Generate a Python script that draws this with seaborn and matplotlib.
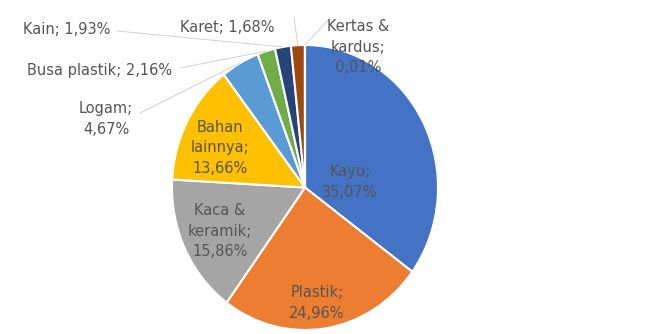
import numpy as np
import matplotlib
matplotlib.use("Agg")
import matplotlib.pyplot as plt
import seaborn as sns

categories = ["Kayu", "Plastik", "Kaca &\nkeramik", "Bahan\nlainnya", "Logam",
              "Busa plastik", "Kain", "Karet", "Kertas &\nkardus"]
shares = [35.07, 24.96, 15.86, 13.66, 4.67, 2.16, 1.93, 1.68, 0.01]
palette = ["#4472C4", "#ED7D31", "#A5A5A5", "#FFC000", "#5B9BD5",
           "#70AD47", "#264478", "#9E480E", "#636363"]

sns.set_theme(style="white")
plt.rcParams["font.family"] = ["DejaVu Sans"]

W, H = 647, 334
fig = plt.figure(figsize=(W / 100, H / 100), dpi=100)
fig.patch.set_facecolor("white")

# pie area in pixels (left, top, right, bottom)
px0, py0, px1, py1 = 172, 45, 438, 330
ax = fig.add_axes([px0 / W, 1 - py1 / H, (px1 - px0) / W, (py1 - py0) / H])

colors = sns.color_palette(palette)
wedges, _ = ax.pie(shares, colors=colors, startangle=90, counterclock=False,
                   wedgeprops=dict(edgecolor="white", linewidth=1.5))
ax.set_aspect("auto")
ax.set_xlim(-1, 1)
ax.set_ylim(-1, 1)
ax.axis("off")


def pct(v):
    return f"{v:.2f}".replace(".", ",") + "%"


def label_text(i):
    name = categories[i]
    if "\n" in name or i in (0, 1, 4):
        return f"{name};\n{pct(shares[i])}"
    return f"{name}; {pct(shares[i])}"


txt_color = "#555555"
fs = 10.5
ls = 1.45

# label centres in figure pixels
label_pos = {
    0: (350, 182),
    1: (317, 303),
    2: (220, 231),
    3: (220, 148),
    4: (106, 119),
    5: (100, 70),
    6: (67, 29),
    7: (227, 27),
    8: (358, 47),
}
for i, (x, y) in label_pos.items():
    fig.text(x / W, 1 - y / H, label_text(i), ha="center", va="center", fontsize=fs,
             color=txt_color, linespacing=ls)

# leader lines from outside labels to their wedges
line_start = {4: (140, 113), 5: (180, 68), 6: (117, 31), 7: (294, 18), 8: (330, 18)}
for i, (sx, sy) in line_start.items():
    w = wedges[i]
    mid = np.deg2rad((w.theta1 + w.theta2) / 2)
    ax.annotate("", xy=(np.cos(mid), np.sin(mid)), xycoords="data",
                xytext=(sx / W, 1 - sy / H), textcoords="figure fraction",
                arrowprops=dict(arrowstyle="-", color="#d0d0d0", lw=0.7,
                                shrinkA=0, shrinkB=0))

fig.savefig("out.png", dpi=100, facecolor="white")
